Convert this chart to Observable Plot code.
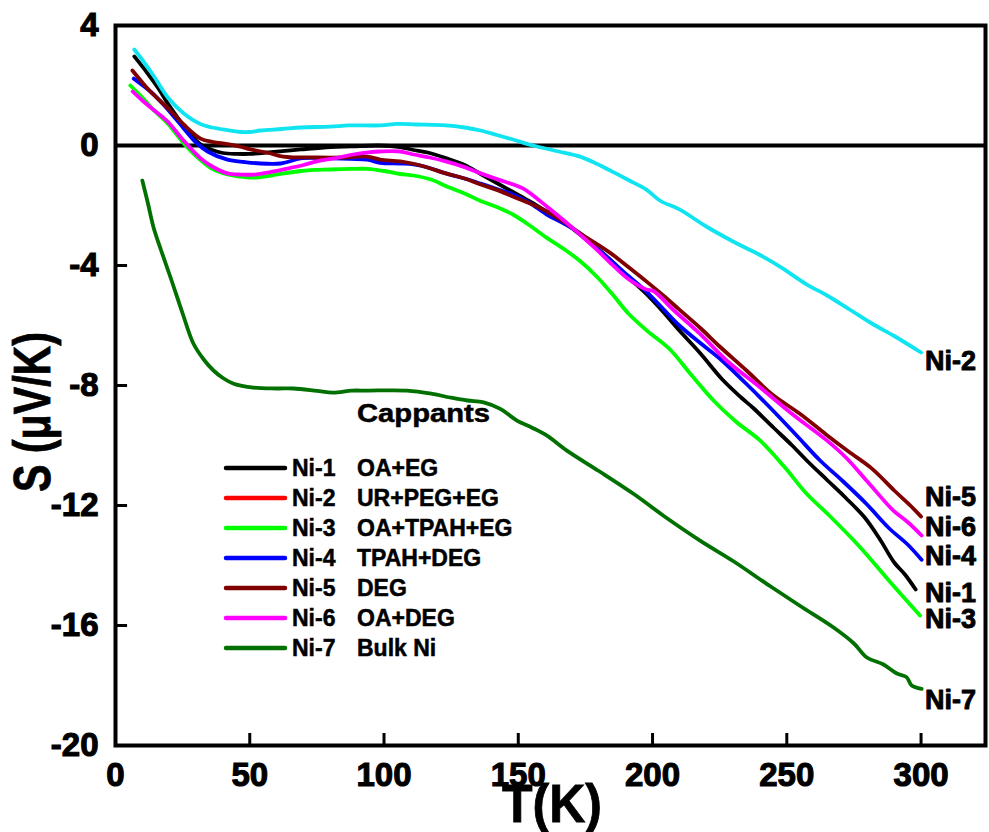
<!DOCTYPE html>
<html>
<head>
<meta charset="utf-8">
<script src="https://cdn.jsdelivr.net/npm/d3@7"></script>
<script src="https://cdn.jsdelivr.net/npm/@observablehq/plot@0.6"></script>
<style>
  html, body { margin: 0; padding: 0; background: white; }
  #wrap { position: relative; width: 989px; height: 832px; }
  #legend { position: absolute; left: 0; top: 0; pointer-events: none; }
  g[aria-label="x-axis tick label"] text, g[aria-label="y-axis tick label"] text { stroke: black; stroke-width: 1.1px; }
</style>
</head>
<body>
<div id="wrap"></div>
<script>
// ---------- data ----------
const seriesNames = ["Ni-1", "Ni-2", "Ni-3", "Ni-4", "Ni-5", "Ni-6", "Ni-7"];
const cappants = ["OA+EG", "UR+PEG+EG", "OA+TPAH+EG", "TPAH+DEG", "DEG", "OA+DEG", "Bulk Ni"];
const lineColors = ["#000000", "#10e4f0", "#00ff00", "#0000ff", "#800000", "#ff00ff", "#007000"];
const legendColors = ["#000000", "#ff0000", "#00ff00", "#0000ff", "#800000", "#ff00ff", "#007000"];

const xTicks = [0, 50, 100, 150, 200, 250, 300];
const yTicks = [4, 0, -4, -8, -12, -16, -20];

const ni1T = [7, 12, 16, 19.5, 23, 27, 31.5, 36, 40, 45, 50, 58, 69, 80, 88, 98, 106, 111, 117, 123, 130, 136, 142, 148, 154, 160.5, 167, 173, 179, 185, 191, 197.7, 204, 210, 218, 226, 233, 237.5, 245, 252, 258, 265, 272, 279, 284.5, 290, 294, 298];
const ni1S = [2.97, 2.4, 1.9, 1.4, 0.95, 0.48, 0.05, -0.15, -0.25, -0.28, -0.28, -0.22, -0.13, -0.05, -0.03, 0.0, -0.05, -0.15, -0.25, -0.42, -0.65, -0.95, -1.25, -1.55, -1.85, -2.2, -2.55, -2.97, -3.4, -3.87, -4.4, -4.95, -5.55, -6.17, -6.95, -7.8, -8.4, -8.75, -9.4, -10.0, -10.55, -11.15, -11.75, -12.4, -13.1, -13.9, -14.3, -14.8];

const ni2T = [7, 10, 14, 19.5, 25, 31.5, 36, 39, 46.5, 50, 54, 62, 69, 80, 87, 98.6, 105, 112, 123, 130, 136, 142, 148, 155.5, 165, 173, 179, 185, 191, 197.7, 203, 210, 220, 230, 240, 248, 257, 265, 274, 282, 290, 300];
const ni2S = [3.2, 2.85, 2.35, 1.6, 1.1, 0.72, 0.6, 0.55, 0.45, 0.45, 0.5, 0.55, 0.6, 0.63, 0.67, 0.67, 0.72, 0.7, 0.67, 0.6, 0.5, 0.35, 0.2, 0.0, -0.2, -0.37, -0.6, -0.87, -1.15, -1.47, -1.85, -2.13, -2.7, -3.2, -3.65, -4.07, -4.61, -5.0, -5.5, -5.95, -6.35, -6.9];

const ni3T = [5.5, 10, 14, 19.5, 25.5, 30, 35.5, 40, 44, 51.5, 58, 69, 80, 88, 94, 100, 106, 111, 118, 123, 130, 136, 142, 148, 154, 160.5, 167, 173, 179, 185, 191, 197.9, 206.5, 214, 222.7, 231, 240, 249, 257.4, 266, 277.3, 288, 299.6];
const ni3S = [2.0, 1.6, 1.2, 0.73, 0.06, -0.35, -0.75, -0.92, -1.0, -1.07, -1.0, -0.85, -0.8, -0.78, -0.78, -0.85, -0.95, -1.0, -1.15, -1.35, -1.6, -1.85, -2.05, -2.3, -2.65, -3.07, -3.45, -3.85, -4.35, -4.95, -5.6, -6.17, -6.8, -7.6, -8.5, -9.2, -9.83, -10.7, -11.61, -12.35, -13.39, -14.5, -15.67];

const ni4T = [6.8, 13, 18, 25.4, 30, 34.3, 41.7, 48, 54, 61.4, 64, 69, 81, 93.7, 98.6, 106, 111, 117, 123, 130, 136, 142, 148, 154, 160.6, 167, 173, 179, 185, 191, 197.7, 204, 210, 218, 225, 235, 245, 254, 262.4, 271, 279.7, 288, 295, 300.2];
const ni4S = [2.23, 1.8, 1.35, 0.57, 0.1, -0.2, -0.47, -0.55, -0.6, -0.6, -0.55, -0.43, -0.43, -0.47, -0.58, -0.6, -0.63, -0.75, -0.93, -1.1, -1.27, -1.45, -1.63, -1.9, -2.3, -2.6, -2.93, -3.4, -3.87, -4.35, -4.87, -5.45, -6.0, -6.6, -7.1, -7.95, -8.85, -9.7, -10.5, -11.2, -11.95, -12.75, -13.3, -13.81];

const ni5T = [6.3, 10, 13, 20, 25.4, 31.7, 36, 40, 46, 50.3, 57, 62.5, 75, 85, 93.7, 98.6, 106, 113, 123, 130, 136, 142, 148, 154, 160.6, 167, 173, 179, 185, 191, 197.7, 204, 210, 218, 225, 235, 244.6, 255, 264.6, 273, 281.7, 290, 296, 300];
const ni5S = [2.5, 2.1, 1.8, 1.2, 0.7, 0.23, 0.12, 0.07, -0.03, -0.13, -0.25, -0.37, -0.4, -0.4, -0.37, -0.47, -0.53, -0.65, -0.93, -1.1, -1.3, -1.48, -1.7, -1.92, -2.2, -2.55, -2.93, -3.27, -3.63, -4.05, -4.53, -5.0, -5.47, -6.1, -6.7, -7.5, -8.3, -8.95, -9.63, -10.2, -10.77, -11.5, -12.0, -12.37];

const ni6T = [6.4, 10, 14, 19.4, 25, 31.7, 36, 41.7, 47, 51.4, 58, 64, 70, 75, 82, 88.5, 95, 98.6, 106, 111, 117, 123, 130, 136, 142, 151.7, 156, 160.6, 167, 173, 179, 185, 191, 197.7, 200.3, 208, 217.7, 228, 240, 252, 264.9, 272, 280, 289.7, 295, 300.2];
const ni6S = [1.8, 1.5, 1.2, 0.8, 0.2, -0.43, -0.7, -0.93, -0.97, -0.97, -0.88, -0.77, -0.65, -0.53, -0.42, -0.3, -0.22, -0.2, -0.2, -0.3, -0.4, -0.53, -0.72, -0.93, -1.12, -1.43, -1.7, -2.03, -2.5, -2.97, -3.45, -3.97, -4.45, -4.8, -4.85, -5.5, -6.28, -7.2, -8.06, -8.95, -9.83, -10.4, -11.2, -12.17, -12.55, -13.0];

const ni7T = [10, 12, 14.2, 17, 20.5, 25, 29, 33, 36.5, 40, 44, 51.4, 60, 66.2, 75, 81, 88, 93.7, 108.6, 118, 124.6, 131, 137.1, 143.3, 149.5, 155, 160.7, 168.1, 180, 192.9, 205, 217.7, 230, 242.5, 255, 267.3, 275, 279.7, 286, 291, 294.6, 296.5, 300.2];
const ni7S = [-1.17, -1.9, -2.74, -3.5, -4.4, -5.6, -6.6, -7.15, -7.5, -7.75, -7.94, -8.07, -8.1, -8.1, -8.18, -8.24, -8.17, -8.17, -8.17, -8.28, -8.4, -8.5, -8.56, -8.78, -9.17, -9.4, -9.67, -10.17, -10.85, -11.61, -12.4, -13.17, -13.85, -14.61, -15.35, -16.06, -16.6, -17.06, -17.3, -17.6, -17.72, -18.0, -18.11];

// end-of-line label values (S units)
const endLabels = ["Ni-2", "Ni-5", "Ni-6", "Ni-4", "Ni-1", "Ni-3", "Ni-7"];
const endLabelS = [-7.2, -11.73, -12.73, -13.7, -14.93, -15.8, -18.5];
const endLabelT = 300;

// ---------- build ----------
const allT = [ni1T, ni2T, ni3T, ni4T, ni5T, ni6T, ni7T];
const allS = [ni1S, ni2S, ni3S, ni4S, ni5S, ni6S, ni7S];
const rows = [];
seriesNames.forEach((name, i) => {
  allT[i].forEach((t, j) => rows.push({series: name, T: t, S: allS[i][j]}));
});
const labelRows = endLabels.map((l, i) => ({label: l, T: endLabelT, S: endLabelS[i]}));

const W = 989, H = 832;
const mL = 115, mR = 4, mT = 25, mB = 87;
const fontFam = "'Liberation Sans', Arial, Helvetica, sans-serif";

const plot = Plot.plot({
  width: W, height: H,
  marginLeft: mL, marginRight: mR, marginTop: mT, marginBottom: mB,
  style: {fontFamily: fontFam, fontWeight: "bold", fontSize: "32px", color: "black", background: "white", overflow: "visible"},
  x: {domain: [0, 324], label: null},
  y: {domain: [-20, 4], label: null},
  marks: [
    Plot.ruleY([0], {stroke: "black", strokeWidth: 4}),
    ...seriesNames.map((name, i) =>
      Plot.line(rows.filter(r => r.series === name), {x: "T", y: "S", stroke: lineColors[i], strokeWidth: 3.8, curve: "catmull-rom"})
    ),
    Plot.text(labelRows, {x: "T", y: "S", text: "label", textAnchor: "start", dx: 4, fontSize: 27, fontWeight: "bold", fill: "black", stroke: "black", strokeWidth: 0.9}),
    // inward tick marks
    Plot.ruleX(xTicks.slice(1), {x: d => d, y1: -20, y2: -19.6, stroke: "black", strokeWidth: 3}),
    Plot.ruleY(yTicks.slice(1, -1), {y: d => d, x1: 0, x2: 4.5, stroke: "black", strokeWidth: 3}),
    Plot.axisX({ticks: xTicks, tickFormat: d => String(d), tickSize: 0, tickPadding: 17, fontSize: 33, fontWeight: "bold"}),
    Plot.axisY({ticks: yTicks, tickFormat: d => String(d), tickSize: 0, tickPadding: 17, fontSize: 33, fontWeight: "bold"}),
    Plot.frame({stroke: "black", strokeWidth: 4})
  ]
});

const wrap = document.getElementById("wrap");
wrap.appendChild(plot);

// axis titles
const svg = d3.select(plot);
svg.append("text")
  .attr("transform", "translate(50,412) rotate(-90)")
  .attr("text-anchor", "middle")
  .attr("font-family", fontFam).attr("font-weight", "bold").attr("font-size", 52)
  .attr("textLength", 160).attr("lengthAdjust", "spacingAndGlyphs")
  .attr("fill", "black").attr("stroke", "black").attr("stroke-width", 0.8)
  .text("S (\u03bcV/K)");
svg.append("text")
  .attr("x", 552).attr("y", 822)
  .attr("text-anchor", "middle")
  .attr("font-family", fontFam).attr("font-weight", "bold").attr("font-size", 54)
  .attr("textLength", 100).attr("lengthAdjust", "spacingAndGlyphs")
  .attr("fill", "black").attr("stroke", "black").attr("stroke-width", 0.8)
  .text("T(K)");

// legend overlay
const leg = d3.select(wrap).append("svg")
  .attr("id", "legend").attr("width", W).attr("height", H)
  .style("font-family", fontFam).style("font-weight", "bold");
leg.append("text").attr("x", 357).attr("y", 422).attr("font-size", 26)
  .attr("textLength", 133).attr("lengthAdjust", "spacingAndGlyphs")
  .attr("fill", "black").attr("stroke", "black").attr("stroke-width", 0.5).text("Cappants");
seriesNames.forEach((name, i) => {
  const y = 468 + 30 * i;
  leg.append("line").attr("x1", 226).attr("x2", 285).attr("y1", y).attr("y2", y)
    .attr("stroke", legendColors[i]).attr("stroke-width", 4.5).attr("stroke-linecap", "round");
  leg.append("text").attr("x", 292).attr("y", y).attr("dy", "0.36em").attr("font-size", 23)
    .attr("fill", "black").attr("stroke", "black").attr("stroke-width", 0.5).text(name);
  leg.append("text").attr("x", 357).attr("y", y).attr("dy", "0.36em").attr("font-size", 23)
    .attr("fill", "black").attr("stroke", "black").attr("stroke-width", 0.5).text(cappants[i]);
});
</script>
</body>
</html>
